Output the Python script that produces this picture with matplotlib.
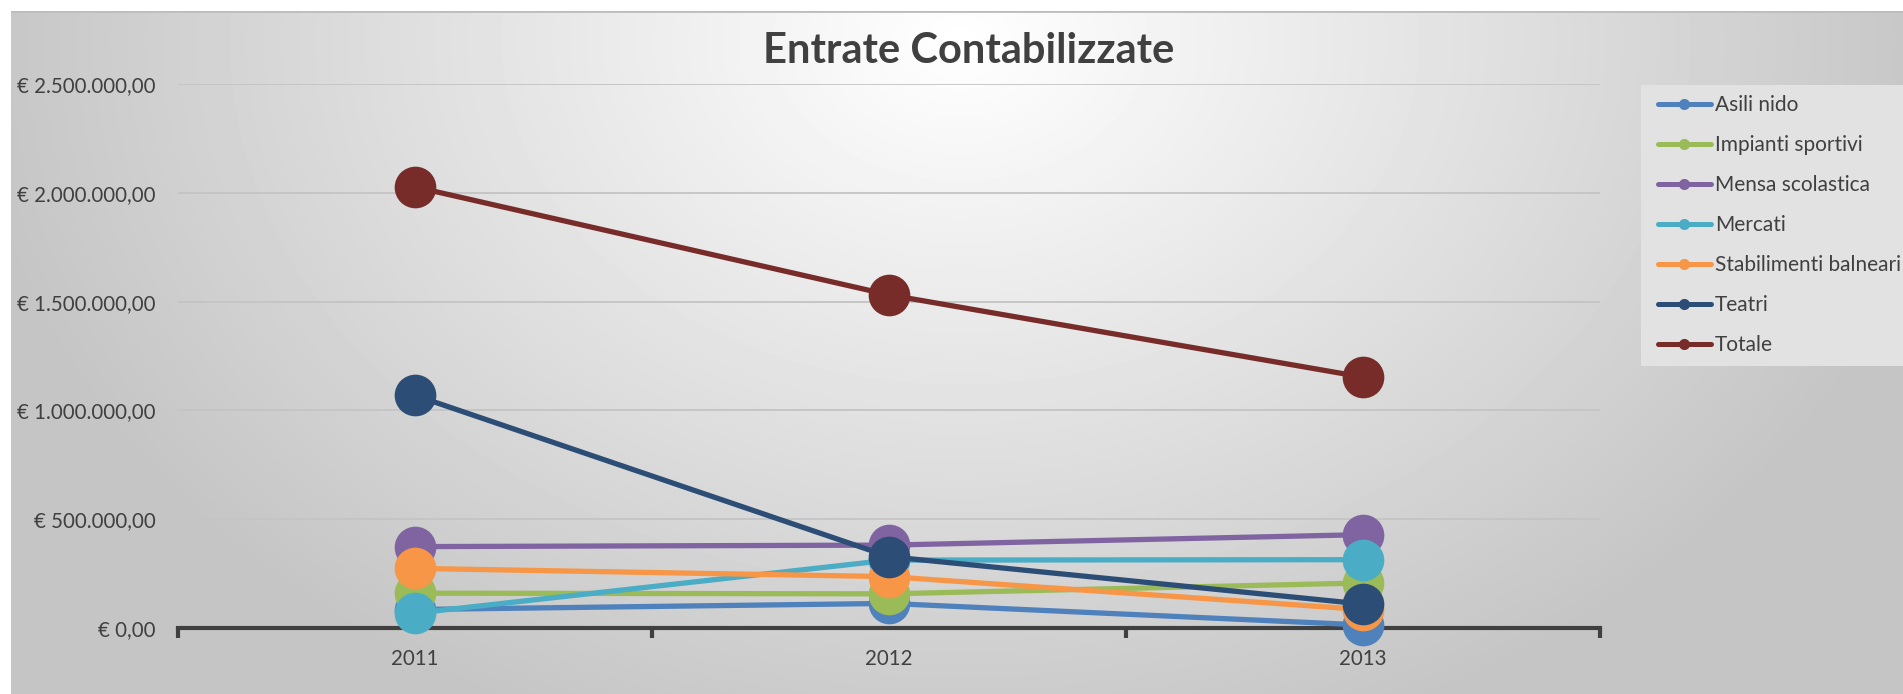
import numpy as np
import matplotlib.pyplot as plt
from matplotlib.lines import Line2D
from matplotlib.patches import Rectangle
from matplotlib.ticker import FuncFormatter, FixedLocator

# ---------------------------------------------------------
# Dati
# ---------------------------------------------------------
anni = ['2011', '2012', '2013']
serie = ['Asili nido', 'Impianti sportivi', 'Mensa scolastica', 'Mercati',
         'Stabilimenti balneari', 'Teatri', 'Totale']
asili_nido = [85000, 113000, 14000]
impianti_sportivi = [160000, 157000, 207000]
mensa_scolastica = [374000, 381000, 429000]
mercati = [68000, 312000, 314000]
stabilimenti_balneari = [274000, 236000, 85000]
teatri = [1069000, 328000, 110000]
totale = [2027000, 1531000, 1153000]
colori = ['#4F81BD', '#9BBB59', '#8064A2', '#4BACC6', '#F79646', '#2C4D75', '#772C2A']

valori = [asili_nido, impianti_sportivi, mensa_scolastica, mercati,
          stabilimenti_balneari, teatri, totale]

FONT = 'Lato'
TESTO = '#404040'
W, H = 1903, 694

fig = plt.figure(figsize=(W / 100, H / 100), dpi=100)
fig.patch.set_facecolor('white')

# sfondo con gradiente radiale (stile Excel)
bg = fig.add_axes([11 / W, 0, 1 - 11 / W, 1 - 11 / H], zorder=-10)
xx, yy = np.meshgrid(np.arange(11, W), np.arange(11, H))
d = np.sqrt(((xx - 960) / 1000.0) ** 2 + ((yy - 40) / 750.0) ** 2)
v = 1.0 - 0.23 * np.clip(d, 0, 1)
bg.imshow(v, cmap='gray', vmin=0, vmax=1, aspect='auto',
          extent=[0, 1, 0, 1], interpolation='bilinear')
bg.axhline(1, color='#bdbdbd', lw=2)
bg.set_axis_off()

# riquadro della legenda
fig.patches.append(Rectangle((1641 / W, 1 - 366 / H), (W - 1641) / W, (366 - 85) / H,
                             transform=fig.transFigure, facecolor='#e2e2e2',
                             edgecolor='none', zorder=-5))

ax = fig.add_axes([178 / W, 1 - 628 / H, (1600 - 178) / W, (628 - 84) / H])
ax.set_facecolor('none')

x = np.arange(len(anni))
for i, (nome, val, col) in enumerate(zip(serie, valori, colori)):
    ax.plot(x, val, color=col, lw=3.8, marker='o', markersize=30,
            markeredgewidth=0, solid_capstyle='round', zorder=3 + i,
            clip_on=False)

ax.set_xlim(-0.5, 2.5)
ax.set_ylim(0, 2500000)
ax.yaxis.set_major_locator(FixedLocator(np.arange(0, 2500001, 500000)))


def euro(v, pos):
    s = f"{v:,.2f}".replace(',', 'X').replace('.', ',').replace('X', '.')
    return f"€ {s}"


ax.yaxis.set_major_formatter(FuncFormatter(euro))
ax.grid(axis='y', color='#c4c4c4', lw=1.3, zorder=0)
ax.tick_params(axis='y', length=0, pad=16, labelsize=14.8, labelcolor=TESTO)

ax.set_xticks(x)
ax.set_xticklabels(anni)
ax.set_xticks([-0.5, 0.5, 1.5, 2.5], minor=True)
ax.tick_params(axis='x', which='major', length=0, pad=15, labelsize=14.8, labelcolor=TESTO)
ax.tick_params(axis='x', which='minor', length=7, width=3, color='#404040', direction='out')

for s in ['top', 'right', 'left']:
    ax.spines[s].set_visible(False)
ax.spines['bottom'].set_color('#404040')
ax.spines['bottom'].set_linewidth(3)
ax.spines['bottom'].set_zorder(2)

for lab in ax.get_xticklabels() + ax.get_yticklabels():
    lab.set_fontfamily(FONT)

fig.text(969 / W, 1 - 63 / H, 'Entrate Contabilizzate', ha='center', va='baseline',
         fontsize=30, fontweight='bold', color=TESTO, family=FONT)

maniglie = [Line2D([0], [0], color=c, lw=3.6, marker='o', markersize=8, markeredgewidth=0,
                   solid_capstyle='round') for c in colori]
leg = fig.legend(maniglie, serie, loc='upper left', bbox_to_anchor=(1648 / W, 1 - 85 / H),
                 frameon=False, borderaxespad=0, borderpad=0.5, handlelength=2.5,
                 handletextpad=0.2, labelspacing=0.96, prop={'family': FONT, 'size': 15})
for t in leg.get_texts():
    t.set_color(TESTO)

fig.savefig('out.png', dpi=100)
